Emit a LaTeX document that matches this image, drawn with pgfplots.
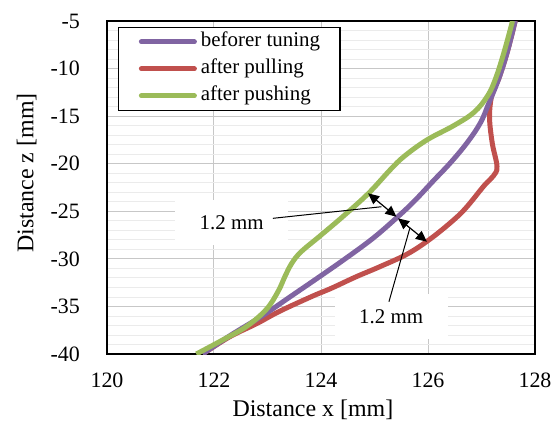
\documentclass[border=0pt]{standalone}
\usepackage{fontspec}
\setmainfont{Liberation Serif}
\usepackage{pgfplots}
\pgfplotsset{compat=1.18}
\usetikzlibrary{arrows.meta}
\definecolor{cpurple}{HTML}{8064A2}
\definecolor{cred}{HTML}{C0504D}
\definecolor{cgreen}{HTML}{9BBB59}
\begin{document}
\begin{tikzpicture}
\useasboundingbox (-107bp,-67bp) rectangle (448bp,354bp);
\begin{axis}[
 scale only axis, width=428bp, height=333bp,
 xmin=120, xmax=128, ymin=-40, ymax=-5,
 xtick={120,122,124,126,128}, xticklabels={120,122,124,126,128},
 ytick={-40,-35,-30,-25,-20,-15,-10,-5},
 yticklabels={-40,-35,-30,-25,-20,-15,-10,-5},
 major tick length=0pt, minor tick length=0pt,
 minor y tick num=4,
 xmajorgrids, ymajorgrids, yminorgrids,
 major grid style={draw=black!22, line width=1bp},
 minor grid style={draw=black!8, line width=0.8bp},
 axis line style={line width=1.5bp, black},
 ticklabel style={font=\fontsize{22}{26}\selectfont},
 yticklabel style={anchor=east, inner sep=0pt, xshift=-27bp},
 xticklabel style={anchor=north, inner sep=0pt, yshift=-19bp},
 every axis x label/.style={at={(axis description cs:0.481,0)}, anchor=base, yshift=-62.5bp, inner sep=0pt, font=\fontsize{24}{28}\selectfont},
 every axis y label/.style={at={(axis description cs:-0.1722,0.5435)}, anchor=base, rotate=90, inner sep=0pt, font=\fontsize{24}{28}\selectfont},
 xlabel={Distance x [mm]},
 ylabel={Distance z [mm]},
 legend style={at={(axis description cs:0.0264,0.983)}, anchor=north west, draw=black, line width=1.2bp, fill=white,
   inner xsep=20bp, inner ysep=5bp, row sep=8bp, column sep=4bp,
   nodes={inner sep=0pt, text height=14bp, text depth=5bp},
   font=\fontsize{21}{25}\selectfont},
 legend cell align=left,
 legend image code/.code={\draw[#1, line cap=round] (0bp,0bp) -- (53bp,0bp);},
]
\addlegendimage{cpurple, line width=5bp}
\addlegendentry{beforer tuning}
\addlegendimage{cred, line width=5bp}
\addlegendentry{after pulling}
\addlegendimage{cgreen, line width=5bp}
\addlegendentry{after pushing}

\addplot[cred, line width=5bp, smooth, tension=0.6, forget plot] coordinates {
(127.63,-5) (127.48,-8.3) (127.32,-11.1) (127.20,-12.6) (127.15,-15.0) (127.20,-17.8)
(127.29,-20.3) (127.22,-21.3) (127.05,-22.3) (126.70,-24.7) (126.42,-26.2) (126.02,-28.0)
(125.61,-29.5) (125.11,-30.8) (124.65,-31.9) (124.19,-33.1) (123.85,-33.9) (123.23,-35.5)
(122.80,-36.8) (122.29,-38.2) (121.79,-40)};
\addplot[cpurple, line width=5bp, smooth, tension=0.6, forget plot] coordinates {
(127.63,-5) (127.48,-8.3) (127.32,-11.1) (127.14,-13.6) (126.98,-15.7) (126.73,-17.8)
(126.42,-19.9) (126.10,-21.8) (125.75,-23.9) (125.45,-25.5) (124.98,-27.8) (124.45,-30)
(123.94,-32) (123.42,-34) (122.90,-36) (122.29,-38.1) (121.79,-40)};
\addplot[cgreen, line width=5bp, smooth, tension=0.6, forget plot] coordinates {
(127.58,-5) (127.42,-8.3) (127.26,-11.1) (127.11,-12.9) (126.86,-14.6) (126.48,-16.0)
(125.98,-17.5) (125.56,-19.2) (125.30,-20.6) (124.89,-23.1) (124.42,-25.5) (123.98,-27.6)
(123.62,-29.3) (123.45,-30.5) (123.33,-31.8) (123.20,-33.4) (122.98,-35.3) (122.61,-37.1) (122.17,-38.5)
(121.67,-40)};

\node[fill=white, minimum width=113bp, minimum height=45bp, inner sep=0pt, font=\fontsize{21}{25}\selectfont] at (122.33,-26.18) {1.2 mm};
\node[fill=white, minimum width=113bp, minimum height=45bp, inner sep=0pt, font=\fontsize{21}{25}\selectfont] at (125.31,-36.05) {1.2 mm};
\draw[line width=1bp] (123.10,-25.74) -- (125.13,-24.52);
\draw[line width=1bp] (125.66,-26.79) -- (125.27,-34.50);
\draw[{Triangle[length=11bp,width=10bp]}-{Triangle[length=11bp,width=10bp]}, line width=1.2bp] (124.88,-23.11) -- (125.41,-25.57);
\draw[{Triangle[length=11bp,width=10bp]}-{Triangle[length=11bp,width=10bp]}, line width=1.2bp] (125.44,-25.74) -- (125.98,-28.2);
\end{axis}
\end{tikzpicture}
\end{document}
